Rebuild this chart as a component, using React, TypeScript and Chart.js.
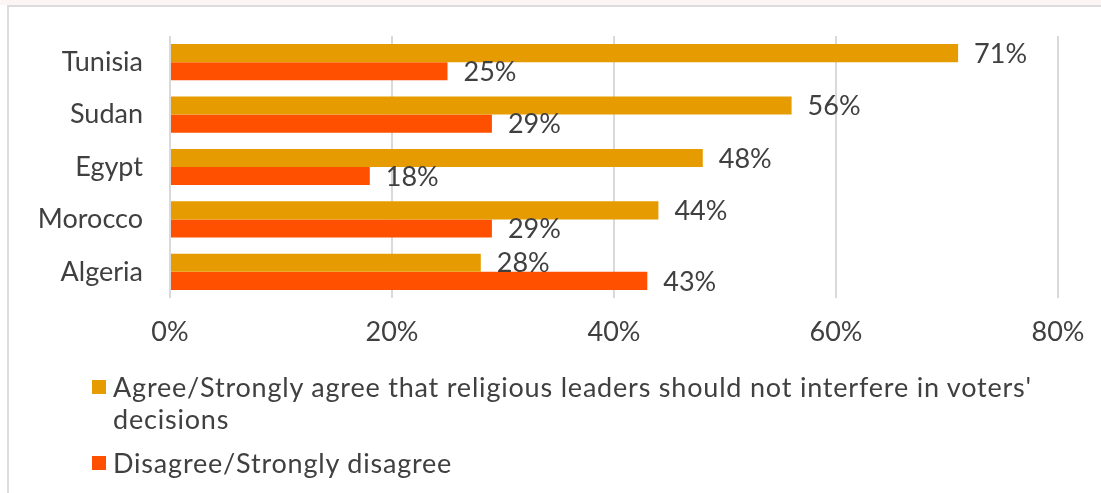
import React, { useEffect, useRef } from "react";
import { Chart, registerables } from "chart.js";

Chart.register(...registerables);

const categories = ["Tunisia", "Sudan", "Egypt", "Morocco", "Algeria"];
const agreeValues = [71, 56, 48, 44, 28];
const disagreeValues = [25, 29, 18, 29, 43];
const seriesLabels = [
  "Agree/Strongly agree that religious leaders should not interfere in voters' decisions",
  "Disagree/Strongly disagree",
];
const seriesColors = ["#E69C00", "#FF5000"];
const xTickValues = [0, 20, 40, 60, 80];

const FONT = "Lato, 'Open Sans', sans-serif";
const TEXT = "#404040";

const labelPlugin = {
  id: "valueLabels",
  afterDatasetsDraw(chart: any) {
    const ctx = chart.ctx;
    ctx.save();
    ctx.font = `27px ${FONT}`;
    ctx.fillStyle = TEXT;
    ctx.textAlign = "left";
    ctx.textBaseline = "middle";
    chart.data.datasets.forEach((ds: any, di: number) => {
      const meta = chart.getDatasetMeta(di);
      meta.data.forEach((bar: any, i: number) => {
        ctx.fillText(ds.data[i] + "%", bar.x + 16, bar.y + 1);
      });
    });
    ctx.restore();
  },
};

export default function App() {
  const ref = useRef<HTMLCanvasElement>(null);
  useEffect(() => {
    if (!ref.current) return;
    const chart = new Chart(ref.current, {
      type: "bar",
      data: {
        labels: categories,
        datasets: [
          { label: seriesLabels[0], data: agreeValues, backgroundColor: seriesColors[0], categoryPercentage: 0.69, barPercentage: 1 },
          { label: seriesLabels[1], data: disagreeValues, backgroundColor: seriesColors[1], categoryPercentage: 0.69, barPercentage: 1 },
        ],
      },
      options: {
        indexAxis: "y",
        animation: false,
        responsive: false,
        maintainAspectRatio: false,
        layout: { padding: { left: 0, top: 36, right: 43, bottom: 145 } },
        plugins: { legend: { display: false }, tooltip: { enabled: false } },
        scales: {
          x: {
            min: 0,
            max: 80,
            afterBuildTicks: (s: any) => {
              s.ticks = xTickValues.map((v) => ({ value: v }));
            },
            afterFit: (s: any) => {
              s.height = 50;
              s.paddingLeft = 0;
              s.paddingRight = 0;
            },
            grid: { color: "#d9d9d9", lineWidth: 2, drawTicks: false },
            border: { display: false },
            ticks: {
              padding: 18,
              color: TEXT,
              font: { family: FONT, size: 27 },
              callback: (v: any) => v + "%",
            },
          },
          y: {
            afterFit: (s: any) => {
              s.width = 170;
              s.paddingTop = 0;
              s.paddingBottom = 0;
            },
            grid: { display: false, drawTicks: false },
            border: { display: false },
            ticks: {
              padding: 27,
              color: TEXT,
              font: { family: FONT, size: 27 },
            },
          },
        },
      },
      plugins: [labelPlugin],
    });
    return () => chart.destroy();
  }, []);

  return (
    <div style={{ position: "fixed", left: 0, top: 0, width: 1101, height: 493, background: "#fff", overflow: "hidden", fontFamily: FONT }}>
      <div style={{ position: "absolute", left: 0, top: 0, width: 1101, height: 5, background: "#fbf6f5" }} />
      <div style={{ position: "absolute", left: 7, top: 5, width: 1100, height: 486, borderTop: "2px solid #dcdcdc", borderLeft: "2px solid #dcdcdc" }} />
      <canvas ref={ref} width={1101} height={493} style={{ position: "absolute", left: 0, top: 0 }} />
      <div style={{ position: "absolute", left: 92, top: 371 }}>
        {seriesLabels.map((lab, i) => (
          <div key={i} style={{ display: "flex", alignItems: "flex-start", marginBottom: 12 }}>
            <div style={{ width: 14, height: 14, background: seriesColors[i], marginTop: 9, flex: "none" }} />
            <div style={{ marginLeft: 7, width: 975, fontSize: 27, letterSpacing: "0.8px", lineHeight: "32px", color: TEXT }}>{lab}</div>
          </div>
        ))}
      </div>
    </div>
  );
}
